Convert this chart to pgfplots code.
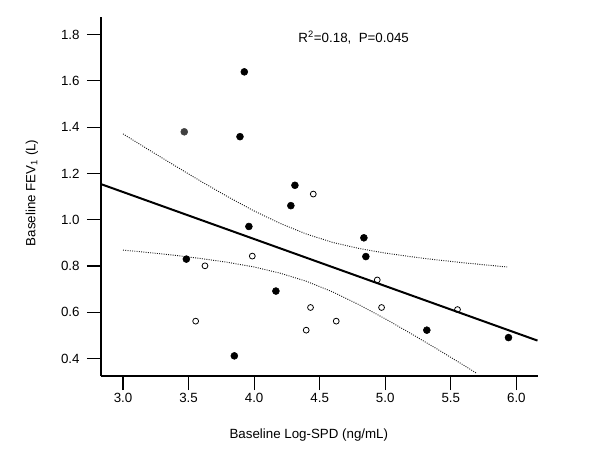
\documentclass[border=0pt]{standalone}
\usepackage{fontspec}
\setmainfont{Liberation Sans}
\usepackage{pgfplots}
\pgfplotsset{compat=1.18}
\begin{document}
\begin{tikzpicture}
\path[use as bounding box] (-75.75pt,-55.5pt) rectangle (374.25pt,282pt);
\begin{axis}[
  at={(0,0)}, anchor=south west,
  scale only axis, width=327.75pt, height=269.25pt,
  xmin=2.832, xmax=6.165, ymin=0.325, ymax=1.876,
  axis x line=bottom, axis y line=left,
  axis line style={-, line width=1.4pt},
  xtick={3,3.5,4,4.5,5,5.5,6},
  ytick={0.4,0.6,0.8,1.0,1.2,1.4,1.6,1.8},
  tick align=outside, major tick length=10.5pt,
  tick style={line width=0.9pt, black},
  /pgf/number format/.cd, fixed, fixed zerofill, precision=1, assume math mode=true,
  /pgfplots/.cd,
  ticklabel style={font=\fontsize{10}{12}\selectfont},
  yticklabel style={xshift=-2pt},
  xticklabel style={yshift=1pt},
  xlabel={Baseline Log-SPD (ng/mL)},
  ylabel={Baseline FEV\textsubscript{1} (L)},
  label style={font=\fontsize{10}{12}\selectfont},
  xlabel style={at={(rel axis cs:0.5,0)}, anchor=center, yshift=-44.25pt, xshift=-8pt},
  ylabel style={at={(rel axis cs:0,0.51)}, anchor=center, yshift=51.75pt},
  clip=false,
]
% confidence band (upper)
\addplot[densely dotted, line width=0.7pt, black!90] coordinates {
(3.0,1.371) (3.2,1.301) (3.4,1.232) (3.6,1.164) (3.8,1.099) (4.0,1.038)
(4.2,0.984) (4.4,0.938) (4.6,0.902) (4.8,0.876) (5.0,0.856) (5.2,0.840)
(5.4,0.826) (5.6,0.814) (5.8,0.803) (5.93,0.796)};
% confidence band (lower)
\addplot[densely dotted, line width=0.7pt, black!90] coordinates {
(3.0,0.869) (3.2,0.858) (3.4,0.846) (3.6,0.832) (3.8,0.816) (4.0,0.796)
(4.2,0.769) (4.4,0.734) (4.6,0.688) (4.8,0.633) (5.0,0.572) (5.2,0.507)
(5.4,0.440) (5.6,0.371) (5.696,0.337)};
% regression line
\addplot[line width=1.5pt, black] coordinates {(2.832,1.154) (6.161,0.478)};
% filled points
\addplot[only marks, mark=*, mark size=2.6pt, black] coordinates {
(3.925,1.639) (3.892,1.359) (4.311,1.149) (4.280,1.061) (3.960,0.971)
(3.483,0.830) (4.166,0.692) (3.849,0.412) (4.837,0.922) (4.852,0.841)
(5.317,0.523) (5.940,0.491)};
\addplot[only marks, mark=*, mark size=2.6pt, black!75, mark options={fill=black!75, draw=black!75}] coordinates {(3.467,1.380)};
% open points
\addplot[only marks, mark=o, mark size=2.2pt, black, line width=0.6pt] coordinates {
(4.451,1.111) (3.625,0.801) (3.986,0.843) (3.554,0.562) (4.939,0.740)
(4.430,0.621) (4.972,0.621) (5.551,0.612) (4.626,0.562) (4.397,0.523)};
\node[anchor=west, font=\fontsize{10}{12}\selectfont, inner sep=0pt] at (axis cs:4.336,1.786) {R\textsuperscript{2}=0.18,\ \ P=0.045};
\end{axis}
\end{tikzpicture}
\end{document}
